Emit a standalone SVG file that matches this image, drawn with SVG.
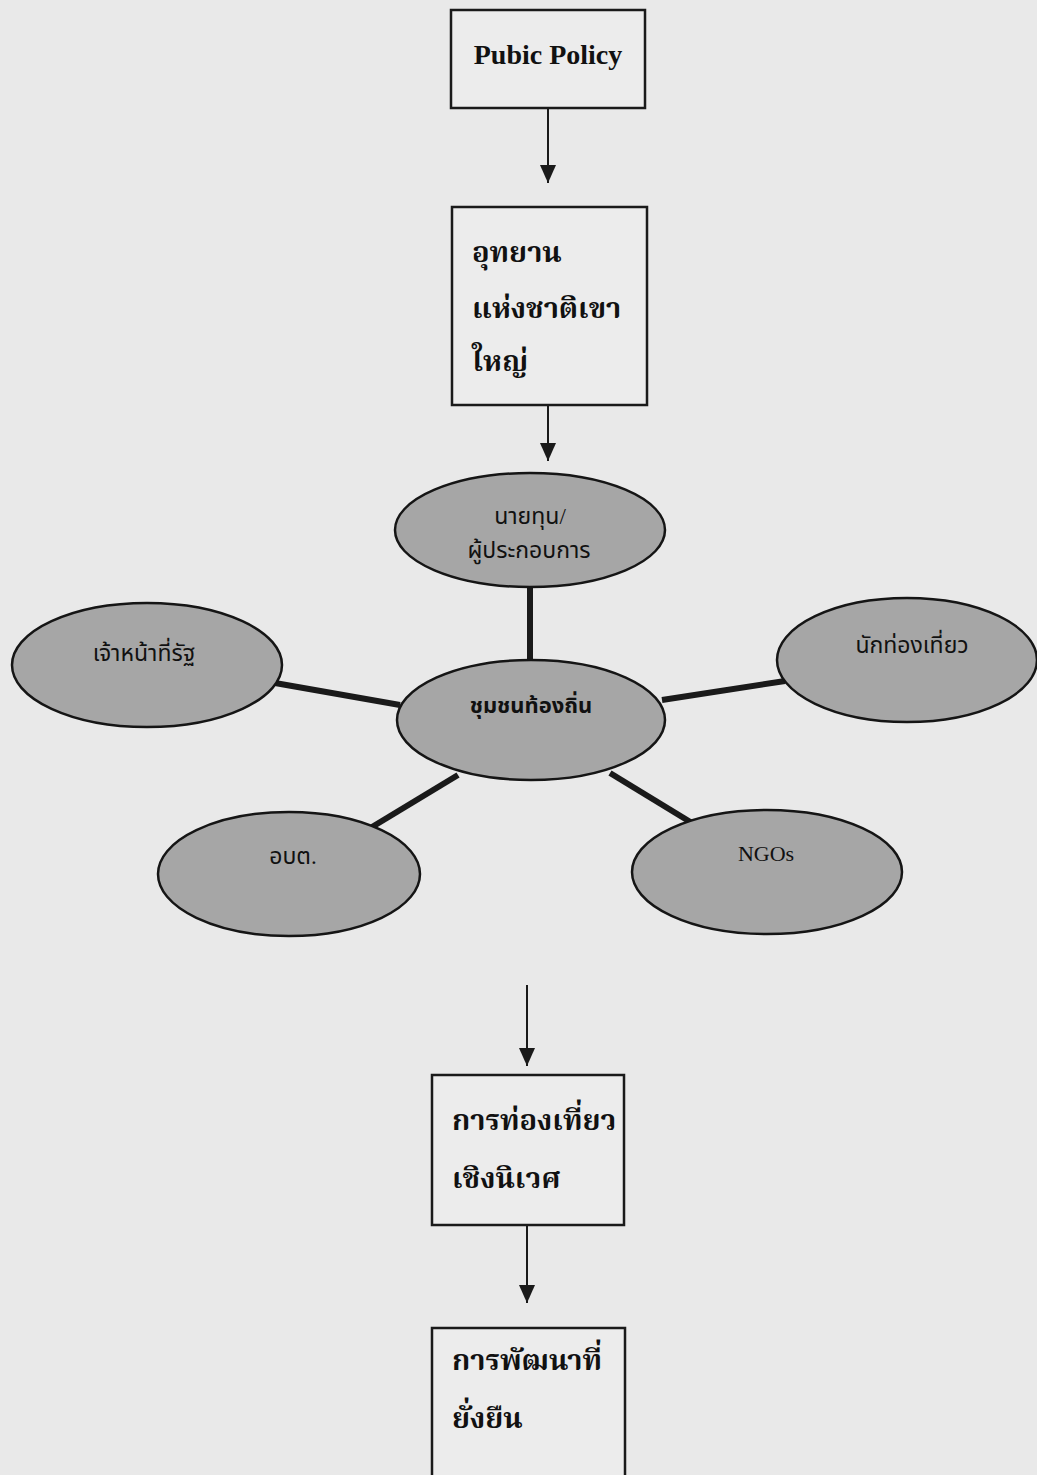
<svg xmlns="http://www.w3.org/2000/svg" width="1037" height="1475" viewBox="0 0 1037 1475">
<defs>
<style>
.bg{fill:#e9e9e9}
.box{fill:#ececec;stroke:#1a1a1a;stroke-width:2.5}
.ell{fill:#a6a6a6;stroke:#151515;stroke-width:2.5}
.arrow{stroke:#1a1a1a;stroke-width:2;fill:none}
.spoke{stroke:#1a1a1a;stroke-width:6;fill:none}
.t-box{font-family:"Liberation Serif","Noto Serif Thai","Noto Sans Thai","DejaVu Sans",serif;font-weight:bold;font-size:29px;fill:#111}
.t-en{font-family:"Liberation Serif",serif;font-weight:bold;font-size:28px;fill:#111}
.t-ell{font-family:"Liberation Serif","Noto Sans Thai","DejaVu Sans",serif;font-size:23px;fill:#111;text-anchor:middle}
.t-ellb{font-family:"Liberation Serif","Noto Sans Thai","DejaVu Sans",serif;font-weight:bold;font-size:22px;fill:#111;text-anchor:middle}
.t-ngo{font-family:"Liberation Serif",serif;font-size:22px;fill:#111;text-anchor:middle}
</style>
<marker id="ah" viewBox="0 0 18 16" refX="18" refY="8" markerWidth="18" markerHeight="16" markerUnits="userSpaceOnUse" orient="auto">
<path d="M0,0 L18,8 L0,16 z" fill="#1a1a1a"/>
</marker>
</defs>
<rect class="bg" x="0" y="0" width="1037" height="1475"/>

<g id="connectors">
<line class="arrow" x1="548" y1="108" x2="548" y2="183" marker-end="url(#ah)"/>
<line class="arrow" x1="548" y1="405" x2="548" y2="461" marker-end="url(#ah)"/>
<line class="spoke" x1="530" y1="587" x2="530" y2="661"/>
<line class="spoke" x1="275" y1="683" x2="400" y2="705"/>
<line class="spoke" x1="662" y1="700" x2="785" y2="681"/>
<line class="spoke" x1="458" y1="775" x2="372" y2="827"/>
<line class="spoke" x1="610" y1="773" x2="692" y2="823"/>
<line class="arrow" x1="527" y1="985" x2="527" y2="1066" marker-end="url(#ah)"/>
<line class="arrow" x1="527" y1="1225" x2="527" y2="1303" marker-end="url(#ah)"/>
</g>

<g id="pubic-policy">
<rect class="box" x="451" y="10" width="194" height="98"/>
<text class="t-en" x="548" y="64" text-anchor="middle">Pubic Policy</text>
</g>

<g id="national-park">
<rect class="box" x="452" y="207" width="195" height="198"/>
<text class="t-box" x="472" y="262">อุทยาน</text>
<text class="t-box" x="472" y="318">แห่งชาติเขา</text>
<text class="t-box" x="472" y="371">ใหญ่</text>
</g>

<g id="investors">
<ellipse class="ell" cx="530" cy="530" rx="135" ry="57"/>
<text class="t-ell" x="530" y="524">นายทุน/</text>
<text class="t-ell" x="529" y="558">ผู้ประกอบการ</text>
</g>

<g id="officials">
<ellipse class="ell" cx="147" cy="665" rx="135" ry="62"/>
<text class="t-ell" x="144" y="661">เจ้าหน้าที่รัฐ</text>
</g>

<g id="tourists">
<ellipse class="ell" cx="907" cy="660" rx="130" ry="62"/>
<text class="t-ell" x="912" y="653">นักท่องเที่ยว</text>
</g>

<g id="community">
<ellipse class="ell" cx="531" cy="720" rx="134" ry="60"/>
<text class="t-ellb" x="531" y="713">ชุมชนท้องถิ่น</text>
</g>

<g id="tao">
<ellipse class="ell" cx="289" cy="874" rx="131" ry="62"/>
<text class="t-ell" x="293" y="864">อบต.</text>
</g>

<g id="ngos">
<ellipse class="ell" cx="767" cy="872" rx="135" ry="62"/>
<text class="t-ngo" x="766" y="861">NGOs</text>
</g>

<g id="ecotourism">
<rect class="box" x="432" y="1075" width="192" height="150"/>
<text class="t-box" x="452" y="1130">การท่องเที่ยว</text>
<text class="t-box" x="452" y="1188">เชิงนิเวศ</text>
</g>

<g id="sustainable">
<rect class="box" x="432" y="1328" width="193" height="160"/>
<text class="t-box" x="452" y="1370">การพัฒนาที่</text>
<text class="t-box" x="452" y="1428">ยั่งยืน</text>
</g>
</svg>
